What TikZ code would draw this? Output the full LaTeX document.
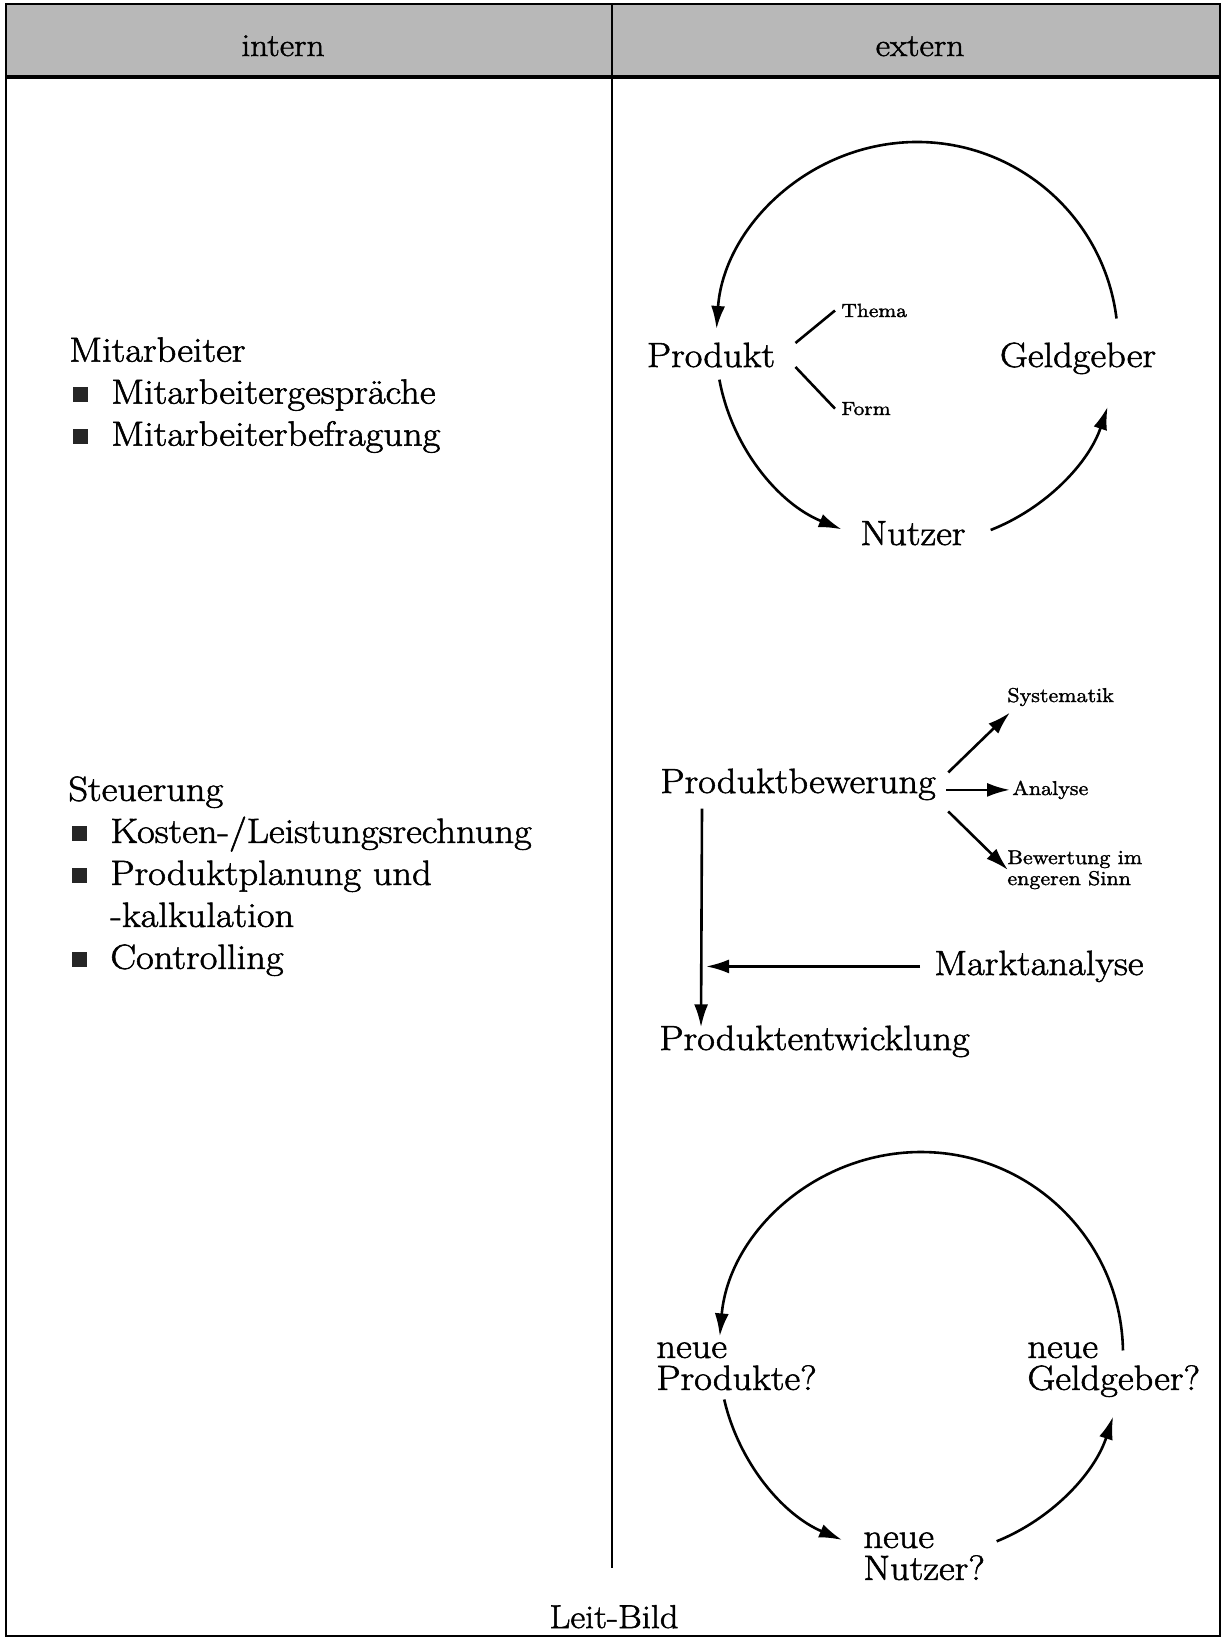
\documentclass[tikz,border=0pt]{standalone}
\usepackage{fontspec}
\setmainfont{Latin Modern Roman}[FakeBold=1.6,FakeStretch=1.1]
\usepackage{tikz}
\usetikzlibrary{arrows.meta,calc}

\newcommand{\blt}{\makebox[1.2em][l]{\hspace{0.1em}\color{black!85}\rule[0.05em]{0.42em}{0.42em}}}

\begin{document}
\begin{tikzpicture}[x=0.5pt,y=0.5pt,>={Latex[length=11.5pt,width=7pt]},
    lab/.style={font=\fontsize{17.5}{21}\selectfont,inner sep=0pt},
    kopf/.style={font=\fontsize{16}{20}\selectfont,inner sep=0pt},
    sml/.style={font=\fontsize{10}{10.5}\selectfont,inner sep=0pt},
    frage/.style={font=\fontsize{17.5}{16}\selectfont,inner sep=0pt,align=left},
    pfeil/.style={->,line width=1.3pt}]
    \useasboundingbox (0,0) rectangle (1225,-1638);
    % Kopfzeile und Rahmen
    \fill[black!28] (6,-4) rectangle (1220,-77);
    \draw[line width=1.8pt] (6,-77) -- (1220,-77);
    \draw[line width=1.3pt] (6,-4) rectangle (1220,-1636);
    \draw[line width=1.4pt] (612,-4) -- (612,-1568);
    \node[kopf,anchor=base] (intern) at (283,-56) {intern};
    \node[kopf,anchor=base] (extern) at (920,-56) {extern};

    % intern
    \node[lab,anchor=north west,align=left] (mitarb) at (69,-337)
        {Mitarbeiter\\ \blt Mitarbeitergespräche\\ \blt Mitarbeiterbefragung};
    \node[lab,anchor=north west,align=left] (steuer) at (68,-776)
        {Steuerung\\ \blt Kosten-/Leistungsrechnung\\ \blt Produktplanung und\\
         \hspace*{1.2em}-kalkulation\\ \blt Controlling};

    % extern: Kreislauf oben
    \coordinate (k1) at (917,-343);
    \node[lab,anchor=base] (prod) at (711,-367) {Produkt};
    \node[lab,anchor=base] (geld) at (1078,-367) {Geldgeber};
    \node[lab,anchor=base] (nutz) at (913,-545) {Nutzer};
    \node[sml,font=\fontsize{9.5}{10}\selectfont,anchor=base west] (thema) at (841,-317) {Thema};
    \node[sml,font=\fontsize{9.5}{10}\selectfont,anchor=base west] (form) at (841,-415) {Form};
    \draw[line width=1.3pt] ([shift={(10pt,6pt)}]prod.east) -- ([xshift=-3pt]thema.west);
    \draw[line width=1.3pt] ([shift={(10pt,-6pt)}]prod.east) -- ([xshift=-3pt]form.west);
    \draw[pfeil] ($(k1)+(7:201)$) arc[start angle=7,end angle=176,radius=201];
    \draw[pfeil] ($(k1)+(190.5:201)$) arc[start angle=190.5,end angle=248,radius=201];
    \draw[pfeil] ($(k1)+(291.5:201)$) arc[start angle=291.5,end angle=341.5,radius=201];

    % extern: Produktbewertung
    \node[lab,anchor=base west] (pbew) at (660,-793) {Produktbewerung};
    \node[sml,anchor=base west] (syst) at (1007,-702) {Systematik};
    \node[sml,anchor=base west] (anal) at (1012,-795) {Analyse};
    \node[sml,anchor=north west,align=left] (bew) at (1007,-850) {Bewertung im\\engeren Sinn};
    \node[lab,anchor=base west] (markt) at (934,-975) {Marktanalyse};
    \node[lab,anchor=base west] (pent) at (659,-1050) {Produktentwicklung};
    \draw[pfeil] ([shift={(6pt,6pt)}]pbew.east) -- ([shift={(1.5pt,-3pt)}]syst.south west);
    \draw[pfeil] ([xshift=-33pt]anal.west) -- ([xshift=-1pt]anal.west);
    \draw[pfeil] ([shift={(6pt,-13.5pt)}]pbew.east) -- ([shift={(0.5pt,-10pt)}]bew.north west);
    \coordinate (vl) at ([shift={(21pt,-4pt)}]pbew.south west);
    \draw[pfeil] (vl) -- ([shift={(21pt,-1pt)}]pent.north west);
    \draw[pfeil,shorten >=2pt] ([xshift=-7pt]markt.west) -- (markt.west -| vl);

    % extern: Kreislauf unten
    \coordinate (k2) at (921,-1354);
    \node[frage,anchor=north west] (nprod) at (656,-1342) {neue\\Produkte?};
    \node[frage,anchor=north west] (ngeld) at (1027,-1342) {neue\\Geldgeber?};
    \node[frage,anchor=north west] (nnutz) at (863,-1532) {neue\\Nutzer?};
    \draw[pfeil] ($(k2)+(1:202)$) arc[start angle=1,end angle=175,radius=202];
    \draw[pfeil] ($(k2)+(193:202)$) arc[start angle=193,end angle=247,radius=202];
    \draw[pfeil] ($(k2)+(292:202)$) arc[start angle=292,end angle=342,radius=202];

    \node[lab,font=\fontsize{16.5}{20}\selectfont,anchor=base] (leit) at (614,-1628) {Leit-Bild};
\end{tikzpicture}
\end{document}
